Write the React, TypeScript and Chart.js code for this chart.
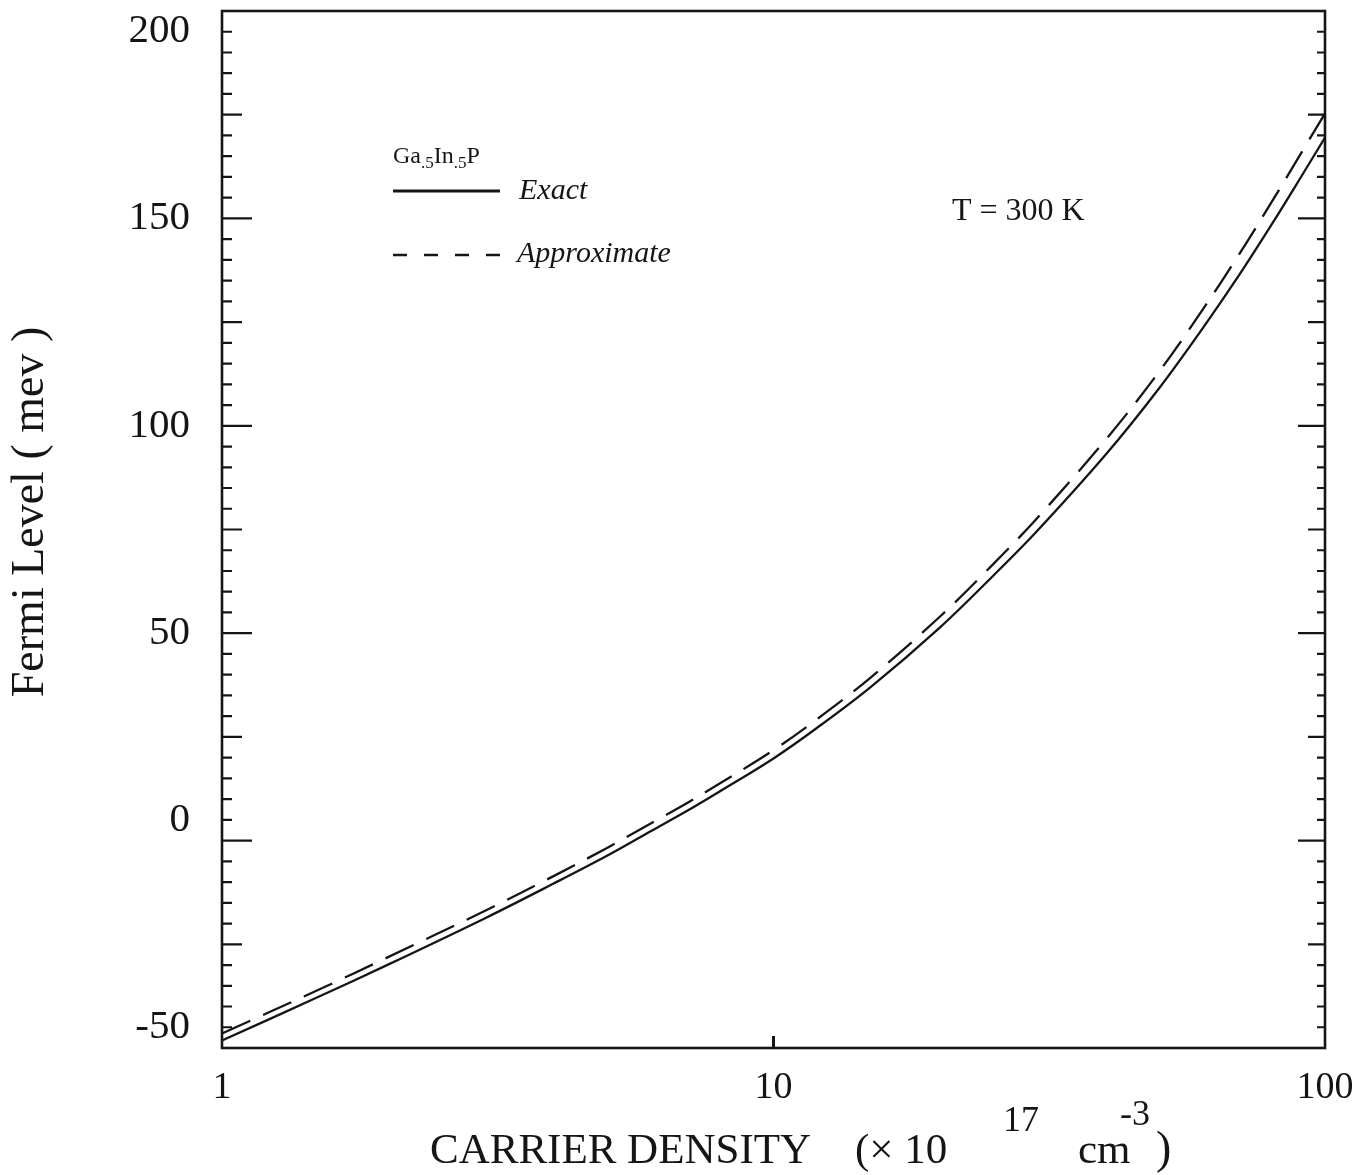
import React, { useEffect, useRef } from "react";
import { Chart, registerables } from "chart.js";

Chart.register(...registerables);

// Carrier density in units of 1e17 cm^-3
const density = [1, 1.5, 2, 3, 4, 5, 6, 7, 8, 10, 12, 15, 20, 25, 30, 40, 50, 60, 70, 80, 90, 100];
// Fermi level (meV), exact Fermi-Dirac solution
const exactLevel = [-48.2, -37.6, -29.9, -18.7, -10.3, -3.6, 2.3, 7.3, 11.9, 19.8, 27.2, 37.0, 51.3, 63.8, 74.5, 93.0, 109.0, 123.5, 136.5, 148.5, 159.5, 169.5];
// Fermi level (meV), approximate expression
const approxLevel = [-46.5, -35.9, -28.1, -16.9, -8.5, -1.7, 4.2, 9.2, 13.8, 21.8, 29.3, 39.3, 53.9, 66.6, 77.6, 96.6, 113.0, 128.0, 141.5, 153.9, 165.2, 175.3];

const xTickValues = [1, 10, 100];
const xTickLabels = ["1", "10", "100"];
const yTickLabels = ["-50", "0", "50", "100", "150", "200"];

const W = 1362;
const H = 1175;
const SERIF = "'Liberation Serif', 'DejaVu Serif', serif";
const INK = "#151515";

const decorations = {
  id: "decorations",
  afterDraw(chart: any) {
    const ctx: CanvasRenderingContext2D = chart.ctx;
    const { left, right, top, bottom } = chart.chartArea;
    const ys = chart.scales.y;
    const xs = chart.scales.x;
    ctx.save();
    ctx.strokeStyle = INK;
    ctx.fillStyle = INK;
    ctx.lineCap = "butt";

    // frame
    ctx.lineWidth = 2.6;
    ctx.strokeRect(left, top, right - left, bottom - top);

    // inward ticks on both vertical axes
    ctx.lineWidth = 2.2;
    for (let v = -50; v <= 200; v += 5) {
      const y = ys.getPixelForValue(v);
      const isMajor = v % 50 === 0;
      const isMid = !isMajor && v % 25 === 0;
      const lenL = isMajor ? 30 : isMid ? 20 : 10;
      const lenR = isMajor ? 27 : isMid ? 17 : 8;
      ctx.beginPath();
      ctx.moveTo(left, y);
      ctx.lineTo(left + lenL, y);
      ctx.moveTo(right, y);
      ctx.lineTo(right - lenR, y);
      ctx.stroke();
    }
    // bottom tick at the middle decade
    const x10 = xs.getPixelForValue(10);
    ctx.lineWidth = 3;
    ctx.beginPath();
    ctx.moveTo(x10, bottom);
    ctx.lineTo(x10, bottom - 12);
    ctx.stroke();

    // legend block
    ctx.textBaseline = "alphabetic";
    ctx.textAlign = "left";
    let gx = 393;
    const gy = 163;
    const parts: [string, boolean][] = [["Ga", false], [".5", true], ["In", false], [".5", true], ["P", false]];
    for (const [t, sub] of parts) {
      ctx.font = sub ? `17px ${SERIF}` : `24px ${SERIF}`;
      ctx.fillText(t, gx, sub ? gy + 5 : gy);
      gx += ctx.measureText(t).width;
    }

    ctx.lineWidth = 3.2;
    ctx.setLineDash([]);
    ctx.beginPath();
    ctx.moveTo(393, 191);
    ctx.lineTo(500, 191);
    ctx.stroke();

    ctx.lineWidth = 2.6;
    ctx.setLineDash([14, 17]);
    ctx.beginPath();
    ctx.moveTo(393, 255);
    ctx.lineTo(503, 255);
    ctx.stroke();
    ctx.setLineDash([]);

    ctx.textBaseline = "middle";
    ctx.font = `italic 30px ${SERIF}`;
    ctx.fillText("Exact", 519, 191);
    ctx.font = `italic 30px ${SERIF}`;
    ctx.fillText("Approximate", 517, 254);

    ctx.font = `32px ${SERIF}`;
    ctx.fillText("T = 300 K", 952, 212);

    // y axis title
    ctx.save();
    ctx.translate(31, 512);
    ctx.rotate(-Math.PI / 2);
    ctx.textAlign = "center";
    ctx.font = `46px ${SERIF}`;
    ctx.fillText("Fermi Level ( mev )", 0, 0);
    ctx.restore();

    // x axis title with superscripts
    ctx.textBaseline = "alphabetic";
    ctx.textAlign = "left";
    const base = 1163;
    ctx.font = `43px ${SERIF}`;
    ctx.fillText("CARRIER DENSITY", 430, base);
    ctx.fillText("(\u00d7 10", 855, base);
    ctx.font = `36px ${SERIF}`;
    ctx.fillText("17", 1003, base - 32);
    ctx.font = `43px ${SERIF}`;
    ctx.fillText("cm", 1078, base);
    ctx.font = `36px ${SERIF}`;
    ctx.fillText("-3", 1120, base - 38);
    ctx.font = `46px ${SERIF}`;
    ctx.fillText(")", 1156, base);

    ctx.restore();
  },
};

export default function App() {
  const canvasRef = useRef<HTMLCanvasElement | null>(null);

  useEffect(() => {
    document.body.style.margin = "0";
    const canvas = canvasRef.current;
    if (!canvas) return;

    const chart = new Chart(canvas, {
      type: "line",
      data: {
        datasets: [
          {
            label: "Exact",
            data: density.map((n, i) => ({ x: n, y: exactLevel[i] })),
            borderColor: INK,
            borderWidth: 2.3,
            pointRadius: 0,
            tension: 0.35,
            fill: false,
          },
          {
            label: "Approximate",
            data: density.map((n, i) => ({ x: n, y: approxLevel[i] })),
            borderColor: INK,
            borderWidth: 2.3,
            borderDash: [31, 14],
            pointRadius: 0,
            tension: 0.35,
            fill: false,
          },
        ],
      },
      options: {
        responsive: false,
        animation: false,
        devicePixelRatio: 1,
        layout: { padding: { left: 0, right: W - 1325, top: 11, bottom: 0 } },
        plugins: {
          legend: { display: false },
          tooltip: { enabled: false },
        },
        scales: {
          x: {
            type: "logarithmic",
            min: 1,
            max: 100,
            grid: { display: false, drawTicks: false },
            border: { display: false },
            afterBuildTicks: (scale: any) => {
              scale.ticks = xTickValues.map((v) => ({ value: v }));
            },
            afterFit: (scale: any) => {
              scale.height = H - 1048;
              scale.paddingLeft = 0;
              scale.paddingRight = 0;
            },
            ticks: {
              autoSkip: false,
              maxRotation: 0,
              padding: 21,
              color: INK,
              font: { family: SERIF, size: 38, lineHeight: 1 },
              callback: (_v: any, i: number) => xTickLabels[i] ?? "",
            },
          },
          y: {
            type: "linear",
            min: -50,
            max: 200,
            grid: { display: false, drawTicks: false },
            border: { display: false },
            afterBuildTicks: (scale: any) => {
              scale.ticks = yTickLabels.map((t) => ({ value: Number(t) }));
            },
            afterFit: (scale: any) => {
              scale.width = 222;
              scale.paddingTop = 0;
              scale.paddingBottom = 0;
            },
            ticks: {
              padding: 32,
              color: INK,
              font: { family: SERIF, size: 41, lineHeight: 1 },
              callback: (v: any) => {
                const s = yTickLabels.find((t) => Number(t) === v) ?? String(v);
                if (v === 200) return ["", s];
                if (v === 0 || v === -50) return [s, ""];
                return s;
              },
            },
          },
        },
      },
      plugins: [decorations],
    } as any);

    return () => chart.destroy();
  }, []);

  return (
    <div style={{ width: W, height: H, background: "#fff" }}>
      <canvas ref={canvasRef} width={W} height={H} style={{ display: "block" }} />
    </div>
  );
}
